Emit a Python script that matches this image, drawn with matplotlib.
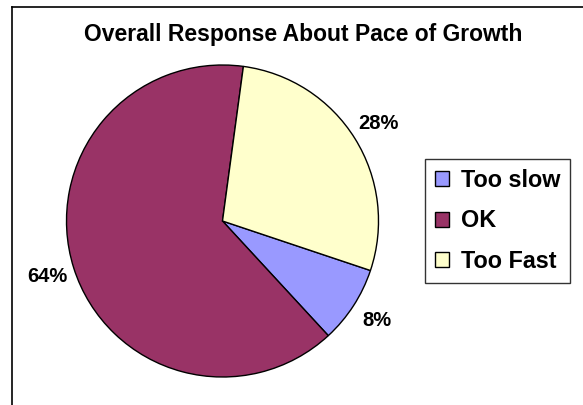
import matplotlib
matplotlib.use('Agg')
import matplotlib.pyplot as plt
from matplotlib.lines import Line2D

plt.rcParams['font.family'] = ['Liberation Sans', 'DejaVu Sans']

labels = ['Too slow', 'OK', 'Too Fast']
values = [8, 64, 28]
colors = ['#9999FF', '#993366', '#FFFFCC']

W, H = 583, 405
fig = plt.figure(figsize=(W / 100, H / 100), dpi=100)

# chart area border (only left and top visible)
fig.add_artist(Line2D([11.5 / W, 11.5 / W], [0, 1 - 6.5 / H], color='black', lw=1.2))
fig.add_artist(Line2D([11.5 / W, 1], [1 - 6.5 / H, 1 - 6.5 / H], color='black', lw=1.2))

cx, cy, r = 222.5, 221, 156
ax = fig.add_axes([(cx - r) / W, (H - cy - r) / H, 2 * r / W, 2 * r / H])
wedges, _, pcts = ax.pie(values, colors=colors, startangle=-18.5, counterclock=False,
                         autopct='%1.0f%%', pctdistance=1.18,
                         wedgeprops=dict(edgecolor='black', linewidth=1))
for t in pcts:
    t.set_fontsize(14.5)
    t.set_fontweight('bold')
ax.set_xlim(-1, 1)
ax.set_ylim(-1, 1)
ax.set_aspect('equal')
ax.axis('off')

fig.text(303 / W, 1 - 35 / H, 'Overall Response About Pace of Growth',
         ha='center', va='center', fontsize=16.5, fontweight='bold')

leg = fig.legend(wedges, labels, loc='upper left',
                 bbox_to_anchor=(425 / W, 1 - 159 / H), bbox_transform=fig.transFigure,
                 frameon=True, fancybox=False, edgecolor='black', borderaxespad=0,
                 handlelength=0.62, handleheight=0.62, handletextpad=0.5,
                 labelspacing=0.75, borderpad=0.42, prop={'weight': 'bold', 'size': 16.8})
leg.get_frame().set_linewidth(1)

fig.savefig('out.png', dpi=100)
